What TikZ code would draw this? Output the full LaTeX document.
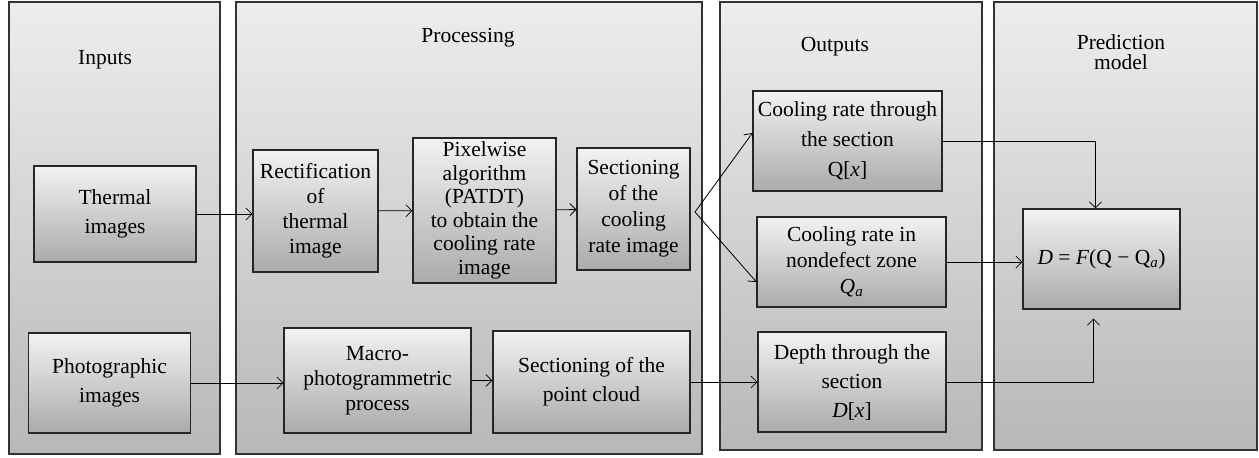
\documentclass[tikz,border=0pt]{standalone}
\usepackage{fontspec}
\setmainfont{Liberation Serif}
\usetikzlibrary{arrows.meta,positioning,calc}

\begin{document}
\begin{tikzpicture}[
  x=1pt, y=-1pt,
  font=\fontsize{21.5}{26}\selectfont,
  panel/.style={draw=black!80, line width=1.2pt, top color=black!7,
                bottom color=black!28},
  box/.style={rectangle, draw=black!85, line width=1.1pt, align=center,
              inner sep=2pt, top color=black!5, bottom color=black!33},
  title/.style={align=center},
  arr/.style={line width=0.8pt, -{Straight Barb[length=6pt, width=12pt]}}]
\useasboundingbox (0,0) rectangle (1259,458);
% columns
\path[panel] (9,2) rectangle (220,454);
\path[panel] (236,2) rectangle (702,454);
\path[panel] (720,2) rectangle (982,450);
\path[panel] (994,2) rectangle (1257,450);
\node[title] (tin) at (105,60) {Inputs};
\node[title] (tproc) at (468,38) {Processing};
\node[title] (tout) at (835,47) {Outputs};
\node[title, font=\fontsize{21.5}{20}\selectfont] (tpred) at (1121,52)
  {Prediction\\ model};
% inputs
\node[box, minimum width=162, minimum height=96,
      font=\fontsize{21.5}{29}\selectfont] (thermal) at (115,214)
  {Thermal\\ images};
\node[box, minimum width=162, minimum height=100,
      font=\fontsize{21.5}{29}\selectfont] (photo) at (109.5,383)
  {Photographic\\ images};
% processing
\node[box, minimum width=125, minimum height=122,
      font=\fontsize{21.5}{25}\selectfont] (rect) at (315.5,211)
  {Rectification\\ of\\ thermal\\ image};
\node[box, minimum width=143, minimum height=145,
      font=\fontsize{21.5}{23.5}\selectfont] (pixel) at (484.5,210.5)
  {Pixelwise\\ algorithm\\ (PATDT)\\ to obtain the\\ cooling rate\\ image};
\node[box, minimum width=113, minimum height=122] (sectcool) at (633.5,209)
  {Sectioning\\ of the\\ cooling\\ rate image};
\node[box, minimum width=187, minimum height=105,
      font=\fontsize{21.5}{25}\selectfont] (macro) at (377.5,380.5)
  {Macro-\\ photogrammetric\\ process};
\node[box, minimum width=197, minimum height=102,
      font=\fontsize{21.5}{29}\selectfont] (sectcloud) at (591.5,382)
  {Sectioning of the\\ point cloud};
\coordinate (split) at (695,212);
% outputs
\node[box, minimum width=189, minimum height=100,
      font=\fontsize{21.5}{30}\selectfont] (qx) at (847.5,141)
  {Cooling rate through\\ the section\\ Q[\textit{x}]};
\node[box, minimum width=189, minimum height=90] (qa) at (851.5,262)
  {Cooling rate in\\ nondefect zone\\ \textit{Q\textsubscript{a}}};
\node[box, minimum width=188, minimum height=100,
      font=\fontsize{21.5}{29}\selectfont] (depth) at (852,382)
  {Depth through the\\ section\\ \textit{D}[\textit{x}]};
% model
\node[box, minimum width=157, minimum height=100] (model) at (1101.5,259)
  {\textit{D} = \textit{F}(Q − Q\textsubscript{\textit{a}})};
% arrows
\draw[arr] (thermal.east) -- (thermal.east -| rect.west);
\draw[arr] (rect) -- (pixel);
\draw[arr] (pixel) -- (sectcool);
\draw[arr] (split) -- ([yshift=8pt]qx.west);
\draw[arr] (split) -- ([yshift=-20pt]qa.west);
\draw[arr] (photo.east) -- (photo.east -| macro.west);
\draw[arr] (macro.east) -- (macro.east -| sectcloud.west);
\draw[arr] (sectcloud.east) -- (sectcloud.east -| depth.west);
\draw[arr] (qx.east) -| ([xshift=-6pt]model.north);
\draw[arr] (qa.east) -- (qa.east -| model.west);
\draw[arr, shorten >=9pt] (depth.east) -| ([xshift=-8pt]model.south);
\end{tikzpicture}
\end{document}
